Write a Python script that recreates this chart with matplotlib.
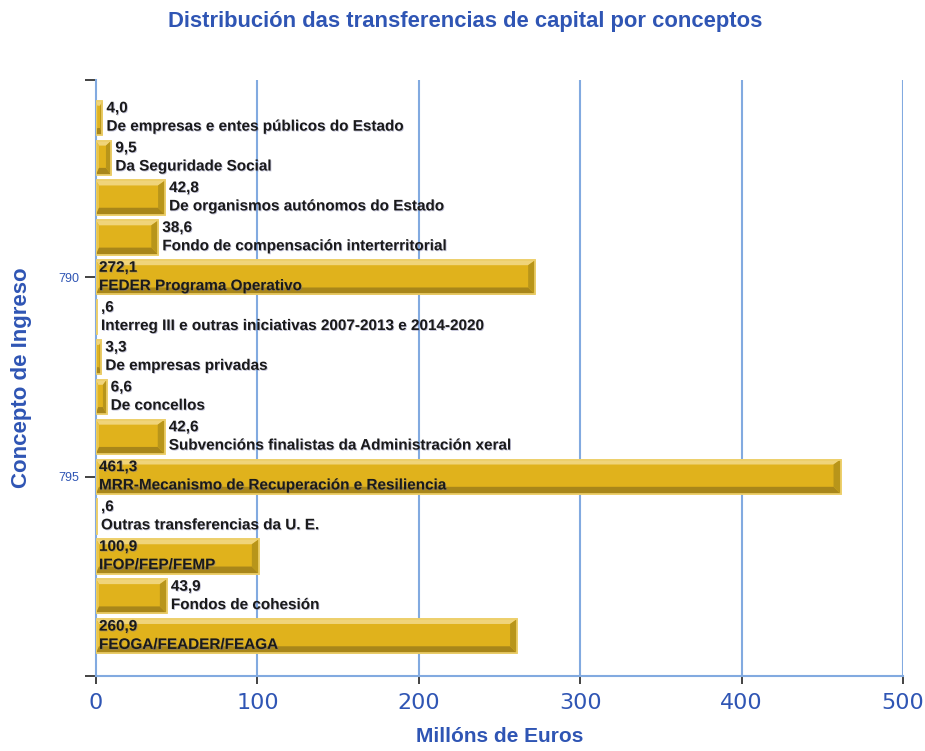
import matplotlib
matplotlib.use("Agg")
import matplotlib.pyplot as plt
from matplotlib.patches import Polygon, Rectangle
import matplotlib.patheffects as pe

categories = [
    "De empresas e entes públicos do Estado",
    "Da Seguridade Social",
    "De organismos autónomos do Estado",
    "Fondo de compensación interterritorial",
    "FEDER Programa Operativo",
    "Interreg III e outras iniciativas 2007-2013 e 2014-2020",
    "De empresas privadas",
    "De concellos",
    "Subvencións finalistas da Administración xeral",
    "MRR-Mecanismo de Recuperación e Resiliencia",
    "Outras transferencias da U. E.",
    "IFOP/FEP/FEMP",
    "Fondos de cohesión",
    "FEOGA/FEADER/FEAGA",
]
values = [4.0, 9.5, 42.8, 38.6, 272.1, 0.6, 3.3, 6.6, 42.6, 461.3, 0.6, 100.9, 43.9, 260.9]
value_labels = ["4,0", "9,5", "42,8", "38,6", "272,1", ",6", "3,3", "6,6", "42,6",
                "461,3", ",6", "100,9", "43,9", "260,9"]
ytick_labels = {4: "790", 9: "795"}
xticks = [0, 100, 200, 300, 400, 500]

BLUE = "#2f55b4"
GRID = "#82aae0"
GOLD = "#e0b21c"
LIGHT = "#f0d47a"
DARK = "#a8861a"
EDGE = "#edcf6a"

fig = plt.figure(figsize=(9.25, 7.51), dpi=100)
ax = fig.add_axes([96/925, 1-676/751, (903-96)/925, (676-80)/751])

n = len(values)
ypos = list(range(n))
h = 0.86
ax.set_xlim(0, 500)
ax.set_ylim(n - 1 + 1.0, -0.95)

# grid
for xv in xticks[1:]:
    ax.axvline(xv, color=GRID, lw=1.5, zorder=0)

# bars with bevel
ax.barh(ypos, values, height=h, color=GOLD, edgecolor=EDGE, linewidth=1.2, zorder=2)

px_x = 500 / (903 - 96)
px_y = (n + 0.95) / (676 - 80)
for y, v in zip(ypos, values):
    top = y - h/2
    bot = y + h/2
    by = 5*px_y
    byb = 7*px_y
    bxr = min(7*px_x, v*0.35)
    bxl = min(3*px_x, v*0.2)
    ax.add_patch(Polygon([(0, top), (v, top), (v - bxr, top + by), (bxl, top + by)],
                         closed=True, facecolor=LIGHT, edgecolor="none", zorder=3))
    ax.add_patch(Polygon([(0, top), (bxl, top + by), (bxl, bot - byb), (0, bot)],
                         closed=True, facecolor="#e9c447", edgecolor="none", zorder=3))
    ax.add_patch(Polygon([(0, bot), (v, bot), (v - bxr, bot - byb), (bxl, bot - byb)],
                         closed=True, facecolor=DARK, edgecolor="none", zorder=3))
    ax.add_patch(Polygon([(v, top), (v, bot), (v - bxr, bot - byb), (v - bxr, top + by)],
                         closed=True, facecolor="#b8951a", edgecolor="none", zorder=3))
    ax.add_patch(Rectangle((0, top), v, h, facecolor="none", edgecolor=EDGE, lw=1.2, zorder=4))

# labels
shadow = [pe.withSimplePatchShadow(offset=(0.6, -0.6), shadow_rgbFace="#7070a0", alpha=0.45)]
for y, v, lab, cat in zip(ypos, values, value_labels, categories):
    if v > 60:
        x = 3 * px_x
    else:
        x = v + 4 * px_x
    ax.text(x, y - 0.24, lab, fontsize=11, fontweight="bold", family="Liberation Sans",
            color="#1a1a1a", va="center", ha="left", zorder=5, path_effects=shadow)
    ax.text(x, y + 0.22, cat, fontsize=11, fontweight="bold", family="Liberation Sans",
            color="#1a1a1a", va="center", ha="left", zorder=5, path_effects=shadow)

# axes styling
for s in ["top", "right"]:
    ax.spines[s].set_visible(False)
ax.spines["left"].set_color(GRID)
ax.spines["left"].set_linewidth(1.5)
ax.spines["bottom"].set_color(GRID)
ax.spines["bottom"].set_linewidth(1.5)

ax.set_xticks(xticks)
ax.set_xticklabels([str(x) for x in xticks], fontsize=16, color=BLUE, family="Liberation Sans Narrow")
ax.tick_params(axis="x", length=6, width=1.2, color="#222222", pad=6)

ax.set_yticks(list(ytick_labels.keys()) + [n - 1 + 1.0, -0.95])
ax.set_yticklabels(list(ytick_labels.values()) + ["", ""], fontsize=9, color=BLUE, family="Liberation Sans")
ax.tick_params(axis="y", length=8, width=1.2, color="#222222", pad=4)

ax.set_xlabel("Millóns de Euros", fontsize=15, fontweight="bold", color=BLUE,
              family="Liberation Sans")
ax.xaxis.set_label_coords(0.5, -(727 - 676)/596)
ax.set_ylabel("Concepto de Ingreso", fontsize=16, fontweight="bold", color=BLUE,
              family="Liberation Sans")
ax.yaxis.set_label_coords(-(96 - 32)/807, 0.5)

fig.suptitle("Distribución das transferencias de capital por conceptos", x=465/925, y=1-22/751,
             va="center", fontsize=15.8, fontweight="bold", color=BLUE, family="Liberation Sans")

fig.savefig("out.png", dpi=100)
